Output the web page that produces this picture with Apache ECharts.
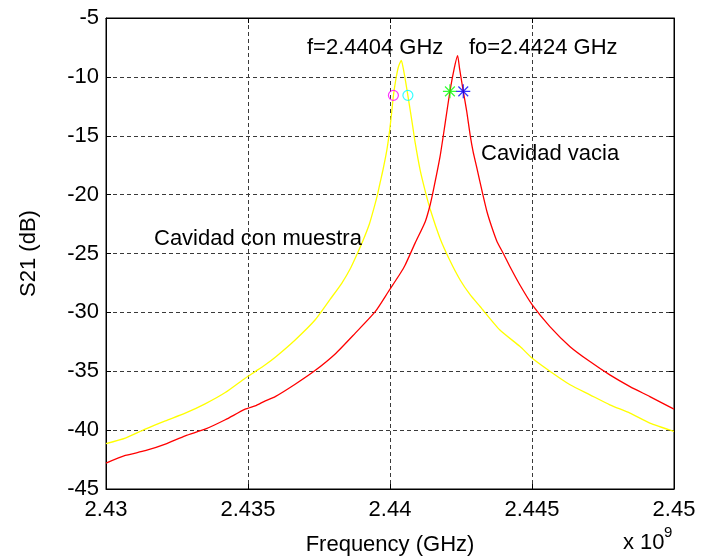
<!DOCTYPE html>
<html>
<head>
<meta charset="utf-8">
<title>S21 - Cavidad</title>
<script src="https://cdn.jsdelivr.net/npm/echarts@6/dist/echarts.min.js"></script>
<style>
  html, body { margin: 0; padding: 0; background: #ffffff; }
  #chart { width: 704px; height: 556px; }
</style>
</head>
<body>
<div id="chart"></div>
<script>
// Transmission S21 (dB) versus frequency (GHz)
// Cavity with sample (yellow)
const freqMuestra = [
  2.43000, 2.43068, 2.43138, 2.43209, 2.43279, 2.43349, 2.43420, 2.43490, 2.43525, 2.43561,
  2.43596, 2.43666, 2.43736, 2.43789, 2.43830, 2.43860, 2.43885, 2.43905, 2.43928, 2.43944,
  2.43956, 2.43965, 2.43975, 2.43989, 2.43999, 2.44006, 2.44012, 2.44020, 2.44029, 2.44040,
  2.44046, 2.44055, 2.44063, 2.44071, 2.44080, 2.44088, 2.44106, 2.44124, 2.44141, 2.44176,
  2.44211, 2.44247, 2.44282, 2.44317, 2.44387, 2.44458, 2.44501, 2.44563, 2.44634, 2.44704,
  2.44774, 2.44845, 2.44915, 2.45000
];
const s21Muestra = [
  -41.15, -40.68, -39.91, -39.21, -38.56, -37.77, -36.81, -35.59, -35.03, -34.45,
  -33.81, -32.34, -30.65, -28.90, -27.53, -26.30, -25.00, -23.90, -22.45, -21.10,
  -20.00, -19.00, -17.93, -16.20, -14.50, -13.00, -11.60, -10.30, -9.20, -8.60,
  -9.20, -10.40, -11.60, -12.80, -14.20, -15.50, -17.90, -19.70, -21.20, -23.70,
  -25.60, -27.25, -28.50, -29.50, -31.50, -32.90, -33.90, -35.00, -36.15, -37.00,
  -37.85, -38.55, -39.40, -40.10
];

// Empty cavity (red)
const freqVacia = [
  2.43000, 2.43068, 2.43138, 2.43209, 2.43279, 2.43349, 2.43420, 2.43490, 2.43525, 2.43561,
  2.43596, 2.43666, 2.43736, 2.43807, 2.43877, 2.43948, 2.43994, 2.44036, 2.44053, 2.44088,
  2.44124, 2.44141, 2.44153, 2.44176, 2.44194, 2.44211, 2.44226, 2.44238, 2.44245, 2.44258,
  2.44270, 2.44282, 2.44293, 2.44305, 2.44327, 2.44342, 2.44358, 2.44377, 2.44399, 2.44423,
  2.44458, 2.44501, 2.44563, 2.44634, 2.44704, 2.44774, 2.44845, 2.44915, 2.45000
];
const s21Vacia = [
  -42.80, -42.15, -41.75, -41.19, -40.48, -39.92, -39.12, -38.22, -37.94, -37.51,
  -37.15, -36.10, -34.94, -33.53, -31.78, -29.94, -28.25, -26.70, -26.00, -24.14,
  -22.30, -20.90, -19.60, -16.80, -13.97, -11.23, -9.30, -8.20, -9.30, -11.23,
  -12.90, -14.90, -16.40, -17.65, -20.00, -21.50, -22.73, -24.00, -25.00, -26.15,
  -27.70, -29.37, -31.21, -32.91, -34.18, -35.31, -36.30, -37.15, -38.22
];

// -3 dB points of each resonance
const halfPowerMuestraFreq = [2.44012, 2.44063];
const halfPowerMuestraS21 = [-11.57, -11.57];
const halfPowerVaciaFreq = [2.44211, 2.44258];
const halfPowerVaciaS21 = [-11.23, -11.23];

// Axis tick labels
const xTickLabels = ['2.43', '2.435', '2.44', '2.445', '2.45'];
const yTickLabels = ['-45', '-40', '-35', '-30', '-25', '-20', '-15', '-10', '-5'];

const FONT = "'Liberation Sans', Arial, Helvetica, sans-serif";
const FS = 22;

const X_MIN = 2.43, X_MAX = 2.45, X_STEP = 0.005;
const Y_MIN = -45, Y_MAX = -5, Y_STEP = 5;

const zip = (xs, ys) => xs.map((x, i) => [x, ys[i]]);

const gridDash = { color: '#3a3a3a', width: 1, type: [4, 3] };

const star = 'path://M6,0 L6,12 M0,6 L12,6 M1.8,1.8 L10.2,10.2 M1.8,10.2 L10.2,1.8';

function marker(point, color, symbol, size) {
  return {
    type: 'scatter',
    data: [point],
    symbol: symbol,
    symbolSize: size,
    silent: true,
    z: 5,
    itemStyle: { color: symbol === 'circle' ? 'rgba(0,0,0,0)' : color, borderColor: color, borderWidth: 1.2 },
    emphasis: { disabled: true }
  };
}

function trace(name, xs, ys, color) {
  return {
    name: name,
    type: 'line',
    data: zip(xs, ys),
    showSymbol: false,
    silent: true,
    smooth: 0.2,
    lineStyle: { color: color, width: 1.3 },
    z: 3
  };
}

const chart = echarts.init(document.getElementById('chart'), null, { renderer: 'canvas' });

chart.setOption({
  animation: false,
  backgroundColor: '#ffffff',
  textStyle: { fontFamily: FONT },
  grid: {
    left: 106, right: 30, top: 18, bottom: 67,
    outerBoundsMode: 'none',
    containLabel: false,
    show: true, borderColor: '#000000', borderWidth: 1, backgroundColor: '#ffffff'
  },
  xAxis: [{
    type: 'value',
    min: X_MIN, max: X_MAX, interval: X_STEP,
    name: 'Frequency (GHz)',
    nameLocation: 'middle',
    nameGap: 45,
    nameTextStyle: { fontFamily: FONT, fontSize: FS, color: '#000' },
    axisLine: { show: true, lineStyle: { color: '#000', width: 1 } },
    axisTick: { show: true, inside: true, length: 5, lineStyle: { color: '#000' } },
    axisLabel: {
      fontFamily: FONT, fontSize: FS, color: '#000', margin: 10,
      formatter: v => xTickLabels[Math.round((v - X_MIN) / X_STEP)]
    },
    splitLine: { show: true, lineStyle: gridDash }
  }, {
    type: 'value', position: 'top',
    min: X_MIN, max: X_MAX, interval: X_STEP,
    axisLine: { show: true, lineStyle: { color: '#000', width: 1 } },
    axisTick: { show: true, inside: true, length: 5, lineStyle: { color: '#000' } },
    axisLabel: { show: false },
    splitLine: { show: false }
  }],
  yAxis: [{
    type: 'value',
    min: Y_MIN, max: Y_MAX, interval: Y_STEP,
    name: 'S21 (dB)',
    nameLocation: 'middle',
    nameGap: 66,
    nameTextStyle: { fontFamily: FONT, fontSize: FS, color: '#000' },
    axisLine: { show: true, lineStyle: { color: '#000', width: 1 } },
    axisTick: { show: true, inside: true, length: 5, lineStyle: { color: '#000' } },
    axisLabel: {
      fontFamily: FONT, fontSize: FS, color: '#000', margin: 7,
      formatter: v => yTickLabels[Math.round((v - Y_MIN) / Y_STEP)]
    },
    splitLine: { show: true, lineStyle: gridDash }
  }, {
    type: 'value', position: 'right',
    min: Y_MIN, max: Y_MAX, interval: Y_STEP,
    axisLine: { show: true, lineStyle: { color: '#000', width: 1 } },
    axisTick: { show: true, inside: true, length: 5, lineStyle: { color: '#000' } },
    axisLabel: { show: false },
    splitLine: { show: false }
  }],
  series: [
    trace('Cavidad con muestra', freqMuestra, s21Muestra, '#ffff00'),
    trace('Cavidad vacia', freqVacia, s21Vacia, '#ff0000'),
    marker([halfPowerMuestraFreq[0], halfPowerMuestraS21[0]], '#ff00ff', 'circle', 10),
    marker([halfPowerMuestraFreq[1], halfPowerMuestraS21[1]], '#00ffff', 'circle', 10),
    marker([halfPowerVaciaFreq[0], halfPowerVaciaS21[0]], '#00ff00', star, 14),
    marker([halfPowerVaciaFreq[1], halfPowerVaciaS21[1]], '#0000ff', star, 14)
  ],
  graphic: [
    { type: 'text', left: 307, top: 48 - FS / 2, style: { text: 'f=2.4404 GHz', font: FS + 'px ' + FONT, fill: '#000' }, z: 10 },
    { type: 'text', left: 469, top: 48 - FS / 2, style: { text: 'fo=2.4424 GHz', font: FS + 'px ' + FONT, fill: '#000' }, z: 10 },
    { type: 'text', left: 481, top: 154 - FS / 2, style: { text: 'Cavidad vacia', font: FS + 'px ' + FONT, fill: '#000' }, z: 10 },
    { type: 'text', left: 154, top: 239 - FS / 2, style: { text: 'Cavidad con muestra', font: FS + 'px ' + FONT, fill: '#000' }, z: 10 },
    { type: 'text', left: 623, top: 543 - FS / 2, style: { text: 'x 10', font: FS + 'px ' + FONT, fill: '#000' }, z: 10 },
    { type: 'text', left: 664, top: 525, style: { text: '9', font: '15px ' + FONT, fill: '#000' }, z: 10 }
  ]
});
</script>
</body>
</html>
